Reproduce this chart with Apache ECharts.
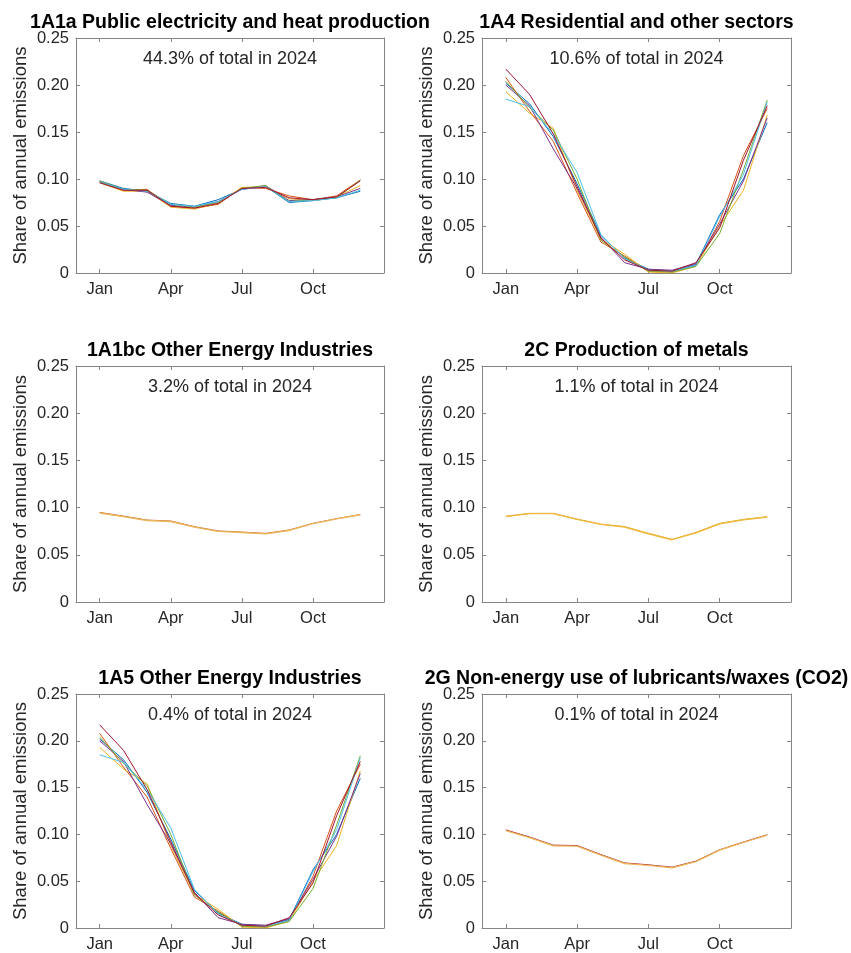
<!DOCTYPE html>
<html>
<head>
<meta charset="utf-8">
<script src="https://cdn.jsdelivr.net/npm/echarts@6/dist/echarts.min.js"></script>
<style>
html,body{margin:0;padding:0;background:#fff;}
#chart{width:851px;height:953px;}
</style>
</head>
<body>
<div id="chart"></div>
<script>
// ---- data ----
const months = [1,2,3,4,5,6,7,8,9,10,11,12];
const monthTickValues = [1,4,7,10];
const monthTickLabels = ['Jan','Apr','Jul','Oct'];

const panelTitles = [
  '1A1a Public electricity and heat production',
  '1A4 Residential and other sectors',
  '1A1bc Other Energy Industries',
  '2C Production of metals',
  '1A5 Other Energy Industries',
  '2G Non-energy use of lubricants/waxes (CO2)'
];
const panelNotes = [
  '44.3% of total in 2024',
  '10.6% of total in 2024',
  '3.2% of total in 2024',
  '1.1% of total in 2024',
  '0.4% of total in 2024',
  '0.1% of total in 2024'
];

// 1A1a public electricity (one line per year)
const elec1 = [0.098,0.090,0.087,0.074,0.071,0.078,0.089,0.092,0.075,0.077,0.080,0.087];
const elec2 = [0.097,0.088,0.089,0.071,0.069,0.073,0.091,0.090,0.082,0.078,0.082,0.099];
const elec3 = [0.096,0.087,0.087,0.070,0.068,0.074,0.091,0.092,0.079,0.077,0.081,0.093];
const elec4 = [0.097,0.089,0.086,0.072,0.070,0.076,0.089,0.093,0.077,0.078,0.081,0.090];
const elec5 = [0.098,0.089,0.088,0.073,0.070,0.075,0.090,0.093,0.076,0.078,0.080,0.099];
const elec6 = [0.097,0.089,0.087,0.073,0.071,0.076,0.089,0.092,0.076,0.077,0.080,0.088];
const elec7 = [0.096,0.088,0.088,0.071,0.069,0.074,0.090,0.091,0.080,0.078,0.081,0.098];

// 1A4 residential (1A5 panel shows the same profiles)
const res1 = [0.202,0.180,0.145,0.095,0.040,0.016,0.004,0.002,0.009,0.062,0.100,0.160];
const res2 = [0.208,0.172,0.140,0.085,0.033,0.018,0.002,0.001,0.008,0.055,0.125,0.175];
const res3 = [0.193,0.170,0.154,0.088,0.036,0.020,0.001,0.000,0.007,0.050,0.088,0.168];
const res4 = [0.200,0.178,0.132,0.090,0.038,0.011,0.004,0.003,0.010,0.052,0.098,0.165];
const res5 = [0.204,0.176,0.152,0.100,0.035,0.017,0.002,0.001,0.007,0.042,0.110,0.184];
const res6 = [0.185,0.177,0.148,0.107,0.041,0.015,0.003,0.002,0.008,0.060,0.105,0.182];
const res7 = [0.217,0.190,0.148,0.092,0.037,0.014,0.003,0.002,0.011,0.048,0.120,0.178];

// 1A1bc other energy industries
const oeiA = [0.0949,0.0910,0.0868,0.0858,0.0798,0.0753,0.0741,0.0727,0.0763,0.0833,0.0883,0.0927];
const oeiB = [0.0943,0.0905,0.0863,0.0853,0.0793,0.0748,0.0736,0.0722,0.0758,0.0830,0.0880,0.0924];

// 2C production of metals
const metA = [0.0908,0.0939,0.0939,0.0878,0.0825,0.0798,0.0727,0.0663,0.0737,0.0832,0.0874,0.0902];
const metB = [0.0904,0.0936,0.0936,0.0875,0.0822,0.0795,0.0723,0.0660,0.0733,0.0829,0.0871,0.0900];

// 2G lubricants/waxes
const lubA = [0.1048,0.0972,0.0885,0.0881,0.0785,0.0695,0.0675,0.0650,0.0714,0.0836,0.0918,0.0996];
const lubB = [0.1041,0.0966,0.0879,0.0875,0.0779,0.0689,0.0669,0.0644,0.0709,0.0833,0.0915,0.0992];

const matlabColors = ['#0072BD','#D95319','#EDB120','#7E2F8E','#77AC30','#4DBEEE','#A2142F'];

const panelSeries = [
  {lines:[elec1,elec2,elec3,elec4,elec5,elec6,elec7], colors:matlabColors, widths:[1]},
  {lines:[res1,res2,res3,res4,res5,res6,res7], colors:matlabColors, widths:[1]},
  {lines:[oeiA,oeiB], colors:['#C9662A','#EDB55A'], widths:[1,1.4]},
  {lines:[metA,metB], colors:['#E3962E','#EDBA3A'], widths:[1,1.4]},
  {lines:[res1,res2,res3,res4,res5,res6,res7], colors:matlabColors, widths:[1]},
  {lines:[lubA,lubB], colors:['#A2142F','#EDB55A'], widths:[1,1.4]}
];

// ---- layout ----
const colLeft = [76, 482];
const colWidth = [308, 309];
const rowTop = [38, 366, 694];
const rowHeight = [235, 236, 235];

const fontFamily = '"Liberation Sans", Arial, Helvetica, sans-serif';
const boxColor = '#858585';
const textColor = '#262626';

const grids = [], xAxes = [], yAxes = [], series = [], titles = [];

for (let p = 0; p < 6; p++) {
  const col = p % 2, row = Math.floor(p / 2);
  const L = colLeft[col], W = colWidth[col], T = rowTop[row], H = rowHeight[row];
  grids.push({left: L, top: T, width: W, height: H, containLabel: false});

  const xBase = {
    gridIndex: p, type: 'value', min: 0, max: 13,
    axisLine: {show: true, onZero: false, lineStyle: {color: boxColor, width: 1}},
    splitLine: {show: false}
  };
  xAxes.push(Object.assign({}, xBase, {
    position: 'bottom',
    axisTick: {show: true, inside: true, length: 4, lineStyle: {color: boxColor}, customValues: monthTickValues},
    axisLabel: {show: true, customValues: monthTickValues, margin: 8,
      fontFamily: fontFamily, fontSize: 16.5, color: textColor,
      formatter: function (v) { const i = monthTickValues.indexOf(v); return i >= 0 ? monthTickLabels[i] : ''; }}
  }));
  xAxes.push(Object.assign({}, xBase, {
    position: 'top',
    axisTick: {show: true, inside: true, length: 4, lineStyle: {color: boxColor}, customValues: monthTickValues},
    axisLabel: {show: false}
  }));

  const yBase = {
    gridIndex: p, type: 'value', min: 0, max: 0.25, interval: 0.05,
    axisLine: {show: true, onZero: false, lineStyle: {color: boxColor, width: 1}},
    splitLine: {show: false}
  };
  yAxes.push(Object.assign({}, yBase, {
    position: 'left',
    name: 'Share of annual emissions', nameLocation: 'middle', nameGap: 46,
    nameTextStyle: {fontFamily: fontFamily, fontSize: 18.5, color: textColor},
    axisTick: {show: true, inside: true, length: 4, lineStyle: {color: boxColor}},
    axisLabel: {show: true, margin: 7, fontFamily: fontFamily, fontSize: 16.5, color: textColor,
      formatter: function (v) { return v === 0 ? '0' : v.toFixed(2); }}
  }));
  yAxes.push(Object.assign({}, yBase, {
    position: 'right',
    axisTick: {show: true, inside: true, length: 4, lineStyle: {color: boxColor}},
    axisLabel: {show: false}
  }));

  const ps = panelSeries[p];
  ps.lines.forEach(function (vals, k) {
    series.push({
      type: 'line', xAxisIndex: p * 2, yAxisIndex: p * 2,
      data: months.map(function (m, i) { return [m, vals[i]]; }),
      symbol: 'none', smooth: false, silent: true, animation: false,
      lineStyle: {width: ps.widths[k % ps.widths.length], color: ps.colors[k % ps.colors.length]}
    });
  });

  titles.push({
    text: panelTitles[p], left: L + W / 2, top: T - 25, textAlign: 'center', padding: 0,
    textStyle: {fontFamily: fontFamily, fontSize: 19.5, fontWeight: 'bold', color: '#000'}
  });
  titles.push({
    text: panelNotes[p], left: L + W / 2, top: T + 12, textAlign: 'center', padding: 0,
    textStyle: {fontFamily: fontFamily, fontSize: 18, fontWeight: 'normal', color: textColor}
  });
}

const chart = echarts.init(document.getElementById('chart'), null, {renderer: 'canvas'});
chart.setOption({
  backgroundColor: '#fff',
  animation: false,
  title: titles,
  grid: grids,
  xAxis: xAxes,
  yAxis: yAxes,
  series: series
});
</script>
</body>
</html>
